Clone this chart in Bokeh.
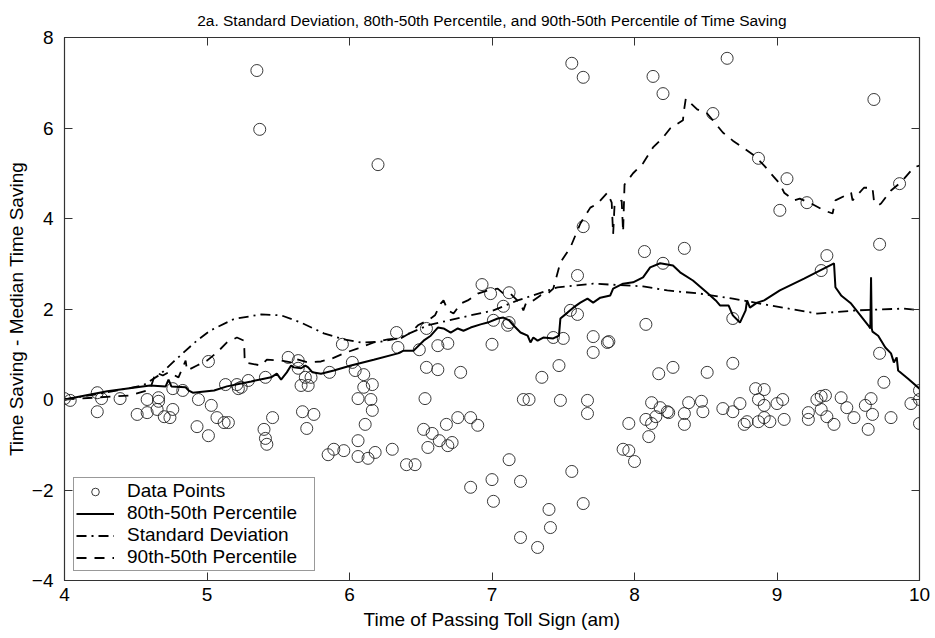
from bokeh.plotting import figure
from bokeh.models import Range1d, LinearAxis, FixedTicker, Legend, LegendItem
from bokeh.embed import file_html
from bokeh.resources import INLINE

TITLE = "2a. Standard Deviation, 80th-50th Percentile, and 90th-50th Percentile of Time Saving"
X_LABEL = "Time of Passing Toll Sign (am)"
Y_LABEL = "Time Saving - Median Time Saving"
X_TICKS = [4, 5, 6, 7, 8, 9, 10]
Y_TICKS = [-4, -2, 0, 2, 4, 6, 8]

# Data points (time, time saving - median)
pts_x = [4.0, 4.04, 4.23, 4.26, 4.23, 4.39, 4.58, 4.66, 4.66, 4.51, 4.58, 4.65, 4.76, 4.70, 4.74,
         4.76, 4.83, 4.94, 5.03, 5.07, 5.12, 5.15, 4.93, 5.01, 5.01, 5.13, 5.21, 5.22, 5.29, 5.24,
         5.41, 5.57, 5.64, 5.64, 5.69, 5.73, 5.66, 5.71, 5.86, 5.95, 6.02, 6.04, 6.10, 6.10, 6.16,
         6.06, 6.15, 6.16, 6.11, 5.46, 5.67, 5.75, 5.70, 5.40, 5.41, 5.42, 5.85, 5.89, 5.96, 6.06,
         6.06, 6.13, 6.18, 6.30, 6.40, 6.46, 6.33, 6.34, 6.49, 6.54, 6.54, 6.53, 6.52, 6.55, 6.93,
         6.99, 7.12, 7.08, 6.62, 6.69, 7.00, 7.01, 7.11, 7.12, 6.62, 6.78, 7.22, 7.26, 7.48, 7.67,
         7.67, 7.47, 7.35, 7.43, 7.50, 7.55, 7.60, 7.60, 7.71, 7.71, 7.81, 6.58, 6.63, 6.69, 6.72,
         6.68, 6.76, 6.85, 6.90, 7.12, 7.00, 6.85, 7.01, 7.20, 7.56, 7.64, 7.40, 7.41, 7.20, 7.32,
         8.07, 8.35, 8.20, 8.08, 7.82, 8.69, 8.17, 8.27, 8.51, 8.69, 8.12, 8.18, 8.24, 8.08, 8.15,
         8.12, 7.96, 8.10, 7.92, 7.96, 8.00, 8.38, 8.47, 8.48, 8.35, 8.35, 8.62, 8.74, 8.69, 8.85,
         8.91, 8.87, 8.91, 8.79, 8.77, 8.87, 8.91, 8.95, 9.00, 9.72, 9.35, 9.31, 9.72, 9.75, 9.04,
         9.05, 9.22, 9.22, 9.28, 9.31, 9.34, 9.31, 9.35, 9.40, 9.45, 9.49, 9.54, 9.62, 9.66, 9.67,
         9.64, 9.80, 9.94, 10.0, 10.0, 10.0, 8.65, 8.55, 8.87, 9.07, 9.02, 9.21, 9.68, 9.86, 7.56,
         7.64, 8.13, 8.20, 6.20, 7.64, 5.35, 5.37, 8.23]
pts_y = [0.02, -0.02, 0.15, 0.02, -0.27, 0.02, 0.0, 0.04, -0.04, -0.33, -0.29, -0.22, -0.22, -0.38, -0.40,
         0.24, 0.20, 0.0, -0.13, -0.40, -0.51, -0.51, -0.60, -0.80, 0.84, 0.33, 0.33, 0.24, 0.42, 0.27,
         0.49, 0.93, 0.86, 0.69, 0.49, 0.49, 0.31, 0.31, 0.60, 1.22, 0.82, 0.64, 0.55, 0.27, 0.33,
         0.02, 0.0, -0.24, -0.55, -0.40, -0.27, -0.33, -0.64, -0.66, -0.86, -0.99, -1.22, -1.10, -1.13, -0.91,
         -1.26, -1.30, -1.17, -1.10, -1.44, -1.44, 1.48, 1.15, 1.10, 1.57, 0.71, 0.02, -0.66, -1.06, 2.54,
         2.34, 2.36, 2.06, 1.19, 1.24, 1.22, 1.75, 1.64, 1.70, 0.66, 0.60, 0.0, 0.0, -0.02, -0.02,
         -0.31, 0.75, 0.49, 1.37, 1.35, 1.97, 1.88, 2.74, 1.39, 1.04, 1.26, -0.75, -0.91, -1.02, -0.95,
         -0.55, -0.40, -0.40, -0.57, -1.33, -1.77, -1.94, -2.25, -1.81, -1.59, -2.30, -2.43, -2.83, -3.05, -3.27,
         3.27, 3.34, 3.01, 1.66, 1.28, 1.79, 0.57, 0.71, 0.60, 0.80, -0.07, -0.18, -0.29, -0.44, -0.38,
         -0.53, -0.53, -0.82, -1.10, -1.13, -1.37, -0.07, -0.04, -0.27, -0.31, -0.55, -0.20, -0.09, -0.27, 0.24,
         0.22, 0.0, -0.13, -0.49, -0.55, -0.49, -0.40, -0.49, -0.09, 3.43, 3.18, 2.85, 1.02, 0.38, 0.0,
         -0.44, -0.29, -0.44, 0.0, 0.07, 0.09, -0.22, -0.38, -0.55, 0.04, -0.18, -0.40, -0.13, 0.02, -0.33,
         -0.66, -0.40, -0.09, 0.20, 0.0, -0.53, 7.54, 6.32, 5.33, 4.88, 4.18, 4.35, 6.63, 4.77, 7.43,
         7.12, 7.14, 6.76, 5.19, 3.82, 7.27, 5.97, -0.27]

# 80th-50th percentile
p80_x = [4.0, 4.30, 4.60, 4.71, 4.73, 4.75, 4.85, 4.87, 4.90, 5.05, 5.14, 5.31, 5.40, 5.45, 5.49,
         5.52, 5.56, 5.59, 5.61, 5.66, 5.69, 5.71, 5.74, 5.80, 5.89, 6.01, 6.17, 6.34, 6.38, 6.45,
         6.52, 6.57, 6.62, 6.66, 6.71, 6.76, 6.80, 6.85, 6.92, 6.97, 7.04, 7.08, 7.12, 7.15, 7.20,
         7.25, 7.27, 7.29, 7.32, 7.36, 7.43, 7.47, 7.48, 7.53, 7.57, 7.62, 7.67, 7.71, 7.76, 7.83,
         7.85, 7.92, 7.99, 8.06, 8.11, 8.18, 8.27, 8.32, 8.41, 8.51, 8.57, 8.60, 8.66, 8.69, 8.74,
         8.78, 8.79, 8.81, 8.86, 8.91, 9.02, 9.19, 9.40, 9.41, 9.45, 9.52, 9.64, 9.655, 9.66, 9.665,
         9.67, 9.71, 9.76, 9.80, 9.82, 9.84, 9.85, 9.92, 10.0]
p80_y = [0.0, 0.18, 0.31, 0.29, 0.44, 0.29, 0.27, 0.20, 0.15, 0.20, 0.29, 0.40, 0.46, 0.49, 0.57,
         0.44, 0.60, 0.75, 0.71, 0.69, 0.75, 0.71, 0.60, 0.57, 0.64, 0.75, 0.88, 1.02, 1.08, 1.08,
         1.30, 1.41, 1.59, 1.57, 1.48, 1.57, 1.52, 1.59, 1.66, 1.70, 1.79, 1.81, 1.75, 1.64, 1.48,
         1.41, 1.26, 1.37, 1.30, 1.37, 1.35, 1.41, 1.79, 1.92, 2.03, 2.14, 2.23, 2.14, 2.25, 2.30,
         2.45, 2.56, 2.59, 2.70, 2.92, 3.01, 2.96, 2.81, 2.63, 2.36, 2.19, 2.08, 2.08, 1.86, 1.70,
         1.97, 2.19, 2.03, 2.14, 2.19, 2.41, 2.67, 3.01, 2.48, 2.30, 2.12, 1.64, 1.57, 2.70, 1.57,
         1.50, 1.41, 1.15, 1.02, 0.82, 0.93, 0.64, 0.46, 0.24]

# Standard deviation
sd_x = [4.0, 4.25, 4.55, 4.67, 4.76, 4.91, 5.02, 5.19, 5.38, 5.52, 5.66, 5.82, 5.96, 6.08, 6.22,
        6.34, 6.55, 6.78, 7.01, 7.18, 7.46, 7.71, 8.06, 8.23, 8.46, 8.69, 8.95, 9.28, 9.56, 9.89, 10.0]
sd_y = [0.0, 0.13, 0.31, 0.55, 0.82, 1.25, 1.52, 1.78, 1.88, 1.86, 1.70, 1.46, 1.33, 1.26, 1.28,
        1.35, 1.64, 1.81, 1.97, 2.19, 2.48, 2.56, 2.50, 2.41, 2.34, 2.23, 2.08, 1.90, 1.97, 2.01, 1.97]

# 90th-50th percentile
p90_x = [4.0, 4.46, 4.60, 4.64, 4.69, 4.73, 4.80, 4.85, 4.86, 4.93, 5.00, 5.07, 5.14, 5.21, 5.26,
         5.265, 5.38, 5.42, 5.52, 5.59, 5.61, 5.71, 5.80, 5.88, 5.96, 6.06, 6.17, 6.27, 6.36, 6.43,
         6.48, 6.55, 6.60, 6.64, 6.66, 6.69, 6.73, 6.78, 6.83, 6.90, 6.97, 7.04, 7.08, 7.13, 7.20,
         7.22, 7.24, 7.29, 7.34, 7.39, 7.43, 7.48, 7.55, 7.62, 7.69, 7.74, 7.81, 7.84, 7.85, 7.86,
         7.91, 7.92, 7.93, 7.99, 8.06, 8.13, 8.20, 8.25, 8.34, 8.345, 8.36, 8.39, 8.44, 8.51, 8.55,
         8.62, 8.69, 8.76, 8.84, 8.91, 8.95, 9.02, 9.05, 9.12, 9.16, 9.24, 9.33, 9.39, 9.41, 9.52,
         9.53, 9.61, 9.67, 9.68, 9.71, 9.73, 9.80, 9.87, 9.96, 10.0]
p90_y = [0.0, 0.09, 0.22, 0.60, 0.53, 0.60, 0.49, 0.86, 0.64, 0.75, 0.86, 1.04, 1.26, 1.37, 1.30,
         0.82, 0.75, 0.88, 0.86, 0.82, 0.91, 0.82, 0.84, 0.91, 1.02, 1.13, 1.26, 1.33, 1.35, 1.48,
         1.64, 1.75, 1.86, 2.12, 2.19, 1.97, 1.90, 2.12, 2.19, 2.34, 2.41, 2.45, 2.34, 2.34, 2.12,
         1.97, 2.14, 2.19, 2.30, 2.34, 2.45, 3.03, 3.36, 3.89, 4.24, 4.33, 4.57, 4.35, 3.65, 4.30,
         4.40, 3.70, 4.75, 5.00, 5.22, 5.57, 5.79, 5.99, 6.17, 6.34, 6.65, 6.56, 6.41, 6.32, 6.17,
         5.90, 5.72, 5.57, 5.39, 5.17, 5.02, 4.77, 4.57, 4.40, 4.44, 4.33, 4.18, 4.11, 4.40, 4.57,
         4.40, 4.68, 4.68, 4.40, 4.29, 4.33, 4.62, 4.80, 5.13, 5.17]

FONT = "Liberation Sans"
INK = "#000000"
AX = "#333333"

p = figure(width=935, height=638, x_range=Range1d(4, 10), y_range=Range1d(-4, 8),
           output_backend="svg", toolbar_location=None,
           min_border_left=64, min_border_right=16, min_border_top=37, min_border_bottom=58,
           background_fill_color="white", border_fill_color="white")

p.title.text = TITLE
p.title.align = "center"
p.title.text_font = FONT
p.title.text_font_size = "15.5px"
p.title.text_font_style = "normal"
p.title.text_color = INK
p.title.offset = 0
p.title.standoff = 14
p.title.vertical_align = "top"

p.xgrid.visible = False
p.ygrid.visible = False
p.outline_line_color = AX
p.outline_line_width = 1.2

xa = p.below[0]
ya = p.left[0]
xa.ticker = FixedTicker(ticks=X_TICKS)
xa.axis_label = X_LABEL
ya.ticker = FixedTicker(ticks=Y_TICKS)
ya.axis_label = Y_LABEL

top = LinearAxis(ticker=FixedTicker(ticks=X_TICKS),
                 major_label_overrides={t: "" for t in X_TICKS})
right = LinearAxis(ticker=FixedTicker(ticks=Y_TICKS),
                   major_label_overrides={t: "" for t in Y_TICKS})
p.add_layout(top, "above")
p.add_layout(right, "right")

for ax in [xa, ya, top, right]:
    ax.major_tick_in = 8
    ax.major_tick_out = 0
    ax.minor_tick_line_color = None
    ax.major_tick_line_color = AX
    ax.axis_line_color = AX
    ax.major_label_text_font = FONT
    ax.major_label_text_color = INK
    ax.axis_label_text_font = FONT
    ax.axis_label_text_font_style = "normal"
    ax.axis_label_text_color = INK
for ax in [xa, ya]:
    ax.major_label_text_font_size = "19px"
    ax.axis_label_text_font_size = "19px"
for ax in [top, right]:
    ax.major_label_text_font_size = "1px"
    ax.major_label_standoff = 0
xa.major_label_standoff = 7
xa.axis_label_standoff = 5
ya.major_label_standoff = 11
ya.axis_label_standoff = 2

r_pts = p.scatter(pts_x, pts_y, marker="circle", size=12, fill_color=None,
                  line_color="#222222", line_width=0.9)
r80 = p.line(p80_x, p80_y, line_color=INK, line_width=2)
rsd = p.line(sd_x, sd_y, line_color=INK, line_width=1.8, line_dash="10 5 2 5")
r90 = p.line(p90_x, p90_y, line_color=INK, line_width=1.8, line_dash="10 8")

legend = Legend(items=[
    LegendItem(label="Data Points", renderers=[r_pts]),
    LegendItem(label="80th-50th Percentile", renderers=[r80]),
    LegendItem(label="Standard Deviation", renderers=[rsd]),
    LegendItem(label="90th-50th Percentile", renderers=[r90]),
], location=(9, 9))
legend.label_text_font = FONT
legend.label_text_font_size = "19px"
legend.label_text_color = INK
legend.border_line_color = AX
legend.border_line_width = 1
legend.background_fill_color = "white"
legend.background_fill_alpha = 1
legend.glyph_width = 38
legend.glyph_height = 19
legend.label_height = 19
legend.label_width = 185
legend.spacing = 0
legend.padding = 2
legend.margin = 0
legend.label_standoff = 13
p.add_layout(legend, "center")

open("out.html", "w").write(file_html(p, INLINE))
